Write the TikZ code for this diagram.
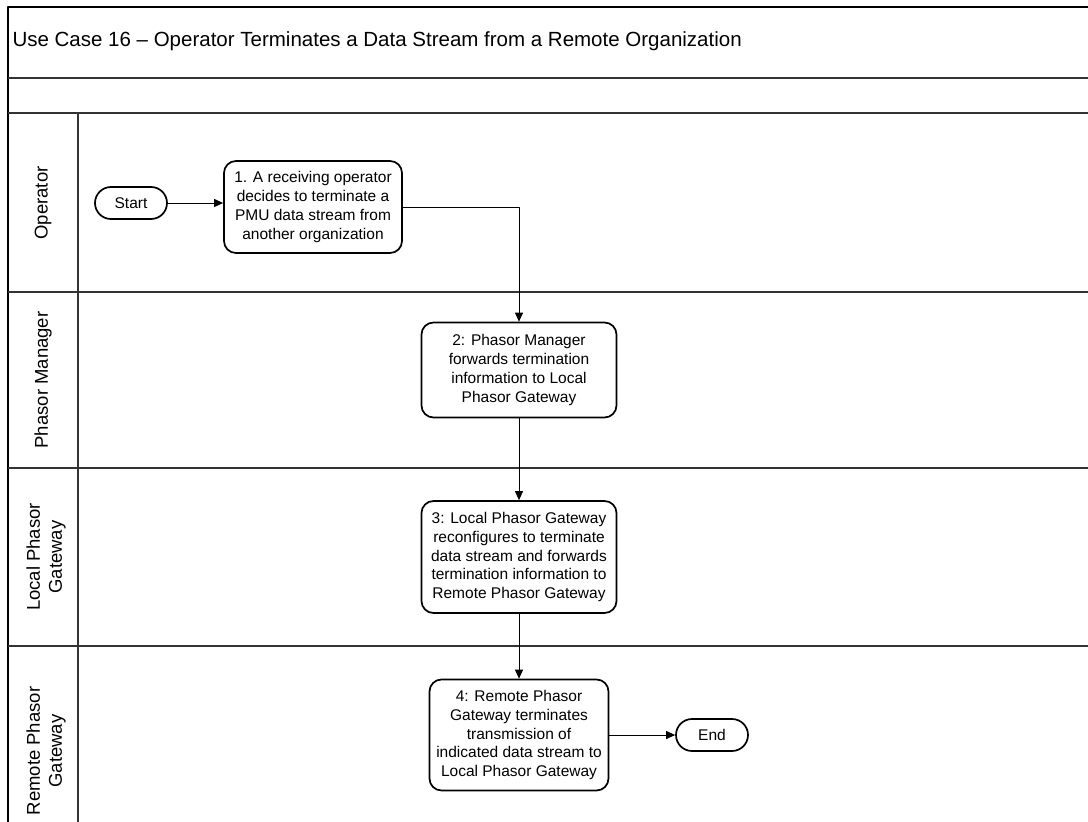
\documentclass[tikz,border=0pt]{standalone}
\usepackage{fontspec}
\setmainfont{Liberation Sans}
\usetikzlibrary{arrows.meta}
\begin{document}
\begin{tikzpicture}[x=1pt, y=-1pt, line join=round, >={Triangle[length=9pt,width=8pt]},
  lane/.style={line width=1.4pt, draw=black!80},
  lanelabel/.style={rotate=90, align=center, font=\fontsize{18.5}{22}\selectfont},
  task/.style={draw, line width=1.7pt, rounded corners=12pt, align=center, inner sep=0pt, font=\fontsize{15.5}{18.7}\selectfont},
  terminal/.style={draw, line width=1.7pt, rounded corners=16pt, minimum width=72pt, minimum height=32pt, inner sep=0pt, font=\fontsize{15.5}{18}\selectfont},
  flow/.style={->, line width=1pt}]
 \useasboundingbox (0,0) rectangle (1088,822);
 % pool and lanes
 \draw[line width=1.8pt] (8,822)--(8,7)--(1088,7);
 \foreach \y in {78,113} \draw[lane] (8,\y)--(1088,\y);
 \foreach \y in {292,468,646} \draw[lane] (8,\y)--(1088,\y);
 \draw[lane] (78,113)--(78,822);
 \node[anchor=west, font=\fontsize{20.5}{24}\selectfont] (title) at (9,41) {Use Case 16 -- Operator Terminates a Data Stream from a Remote Organization};
 \node[lanelabel] (lop) at (43,203) {Operator};
 \node[lanelabel] (lpm) at (43,380) {Phasor Manager};
 \node[lanelabel] (llpg) at (46,557) {Local Phasor\\Gateway};
 \node[lanelabel] (lrpg) at (46,751) {Remote Phasor\\Gateway};
 % process
 \node[terminal] (start) at (131,203) {Start};
 \node[task, minimum width=178pt, minimum height=92pt] (s1) at (313,207) {1. A receiving operator\\decides to terminate a\\PMU data stream from\\another organization};
 \node[task, minimum width=195pt, minimum height=95pt] (s2) at (519,370) {2: Phasor Manager\\forwards termination\\information to Local\\Phasor Gateway};
 \node[task, minimum width=195pt, minimum height=112pt] (s3) at (519,557) {3: Local Phasor Gateway\\reconfigures to terminate\\data stream and forwards\\termination information to\\Remote Phasor Gateway};
 \node[task, minimum width=179pt, minimum height=111pt] (s4) at (519,735) {4: Remote Phasor\\Gateway terminates\\transmission of\\indicated data stream to\\Local Phasor Gateway};
 \node[terminal] (end) at (712,735) {End};
 \draw[flow] (start.east)--(start.east-|s1.west);
 \draw[flow] (s1.east)-|(s2.north);
 \draw[flow] (s2)--(s3);
 \draw[flow] (s3)--(s4);
 \draw[flow] (s4)--(end);
\end{tikzpicture}
\end{document}
